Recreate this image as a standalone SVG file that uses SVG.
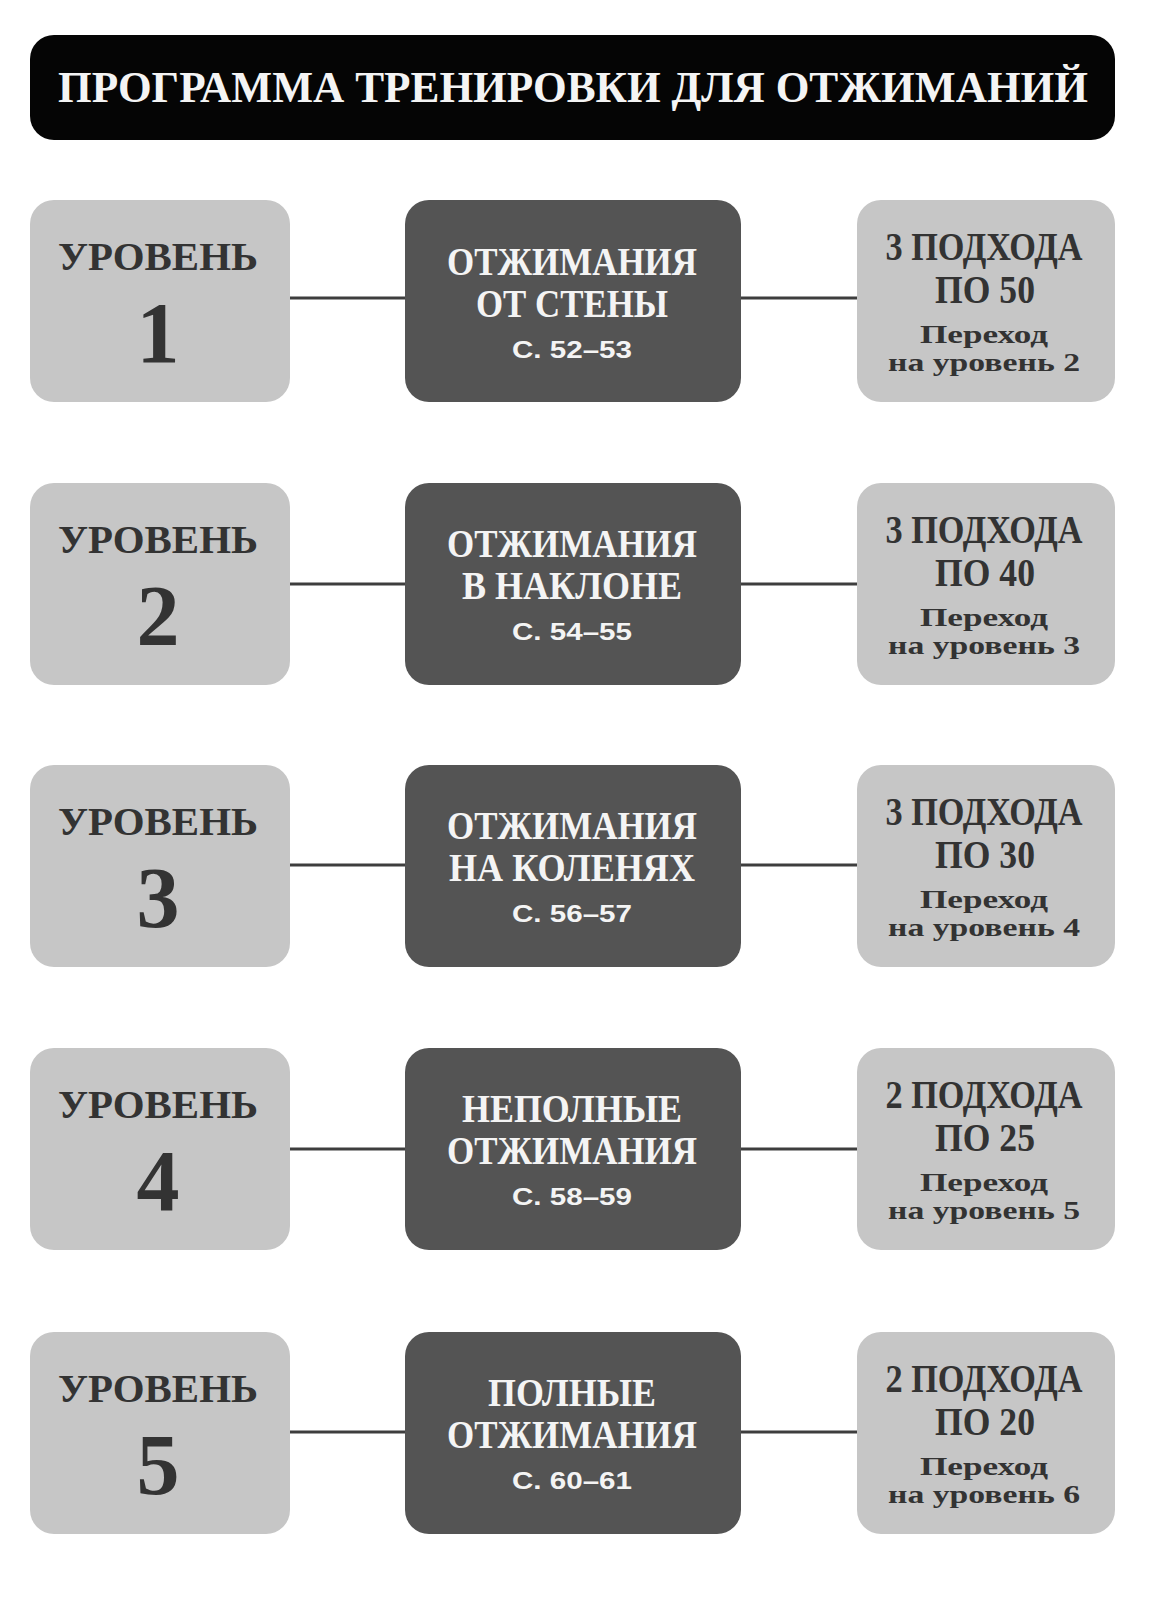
<svg xmlns="http://www.w3.org/2000/svg" width="1173" height="1597" viewBox="0 0 1173 1597">
<style>
.bg{fill:#ffffff}
.title{fill:#050505}
.lt{fill:#c6c6c6}
.dk{fill:#545454}
.st{font-family:"Liberation Serif","DejaVu Serif",serif;font-weight:bold;text-anchor:middle}
.sn{font-family:"Liberation Sans","DejaVu Sans",sans-serif;font-weight:bold;text-anchor:middle}
.w{fill:#f4f4f4}
.d{fill:#333333}
.conn line{stroke:#3e3e3e;stroke-width:3}
</style>
<rect class="bg" x="0" y="0" width="1173" height="1597"/>
<g id="title">
<rect class="title" x="30" y="35" width="1085" height="105" rx="24"/>
<text class="st w" x="573" y="102" font-size="44" textLength="1030" lengthAdjust="spacingAndGlyphs">ПРОГРАММА ТРЕНИРОВКИ ДЛЯ ОТЖИМАНИЙ</text>
</g>
<g id="connectors" class="conn">
<line x1="290" y1="298" x2="405" y2="298"/><line x1="741" y1="298" x2="857" y2="298"/>
<line x1="290" y1="584" x2="405" y2="584"/><line x1="741" y1="584" x2="857" y2="584"/>
<line x1="290" y1="865" x2="405" y2="865"/><line x1="741" y1="865" x2="857" y2="865"/>
<line x1="290" y1="1149" x2="405" y2="1149"/><line x1="741" y1="1149" x2="857" y2="1149"/>
<line x1="290" y1="1432" x2="405" y2="1432"/><line x1="741" y1="1432" x2="857" y2="1432"/>
</g>
<!-- Row 1 -->
<g id="level1" transform="translate(0,200)">
<rect class="lt" x="30" y="0" width="260" height="202" rx="24"/>
<text class="st d" x="158" y="70" font-size="40" textLength="200" lengthAdjust="spacingAndGlyphs">УРОВЕНЬ</text>
<text class="st d" x="158" y="162" font-size="86">1</text>
</g>
<g id="exercise1" transform="translate(0,200)">
<rect class="dk" x="405" y="0" width="336" height="202" rx="24"/>
<text class="st w" x="572" y="75" font-size="40" textLength="250" lengthAdjust="spacingAndGlyphs">ОТЖИМАНИЯ</text>
<text class="st w" x="572" y="117" font-size="40" textLength="192" lengthAdjust="spacingAndGlyphs">ОТ СТЕНЫ</text>
<text class="sn w" x="572" y="158" font-size="24" textLength="120" lengthAdjust="spacingAndGlyphs">С. 52–53</text>
</g>
<g id="sets1" transform="translate(0,200)">
<rect class="lt" x="857" y="0" width="258" height="202" rx="24"/>
<text class="st d" x="984" y="60" font-size="40" textLength="197" lengthAdjust="spacingAndGlyphs">3 ПОДХОДА</text>
<text class="st d" x="985" y="103" font-size="40" textLength="100" lengthAdjust="spacingAndGlyphs">ПО 50</text>
<text class="st d" x="984" y="143" font-size="25" textLength="128" lengthAdjust="spacingAndGlyphs">Переход</text>
<text class="st d" x="984" y="171" font-size="25" textLength="192" lengthAdjust="spacingAndGlyphs">на уровень 2</text>
</g>
<!-- Row 2 -->
<g id="level2" transform="translate(0,483)">
<rect class="lt" x="30" y="0" width="260" height="202" rx="24"/>
<text class="st d" x="158" y="70" font-size="40" textLength="200" lengthAdjust="spacingAndGlyphs">УРОВЕНЬ</text>
<text class="st d" x="158" y="162" font-size="86">2</text>
</g>
<g id="exercise2" transform="translate(0,483)">
<rect class="dk" x="405" y="0" width="336" height="202" rx="24"/>
<text class="st w" x="572" y="74" font-size="40" textLength="250" lengthAdjust="spacingAndGlyphs">ОТЖИМАНИЯ</text>
<text class="st w" x="572" y="116" font-size="40" textLength="220" lengthAdjust="spacingAndGlyphs">В НАКЛОНЕ</text>
<text class="sn w" x="572" y="157" font-size="24" textLength="120" lengthAdjust="spacingAndGlyphs">С. 54–55</text>
</g>
<g id="sets2" transform="translate(0,483)">
<rect class="lt" x="857" y="0" width="258" height="202" rx="24"/>
<text class="st d" x="984" y="60" font-size="40" textLength="197" lengthAdjust="spacingAndGlyphs">3 ПОДХОДА</text>
<text class="st d" x="985" y="103" font-size="40" textLength="100" lengthAdjust="spacingAndGlyphs">ПО 40</text>
<text class="st d" x="984" y="143" font-size="25" textLength="128" lengthAdjust="spacingAndGlyphs">Переход</text>
<text class="st d" x="984" y="171" font-size="25" textLength="192" lengthAdjust="spacingAndGlyphs">на уровень 3</text>
</g>
<!-- Row 3 -->
<g id="level3" transform="translate(0,765)">
<rect class="lt" x="30" y="0" width="260" height="202" rx="24"/>
<text class="st d" x="158" y="70" font-size="40" textLength="200" lengthAdjust="spacingAndGlyphs">УРОВЕНЬ</text>
<text class="st d" x="158" y="162" font-size="86">3</text>
</g>
<g id="exercise3" transform="translate(0,765)">
<rect class="dk" x="405" y="0" width="336" height="202" rx="24"/>
<text class="st w" x="572" y="74" font-size="40" textLength="250" lengthAdjust="spacingAndGlyphs">ОТЖИМАНИЯ</text>
<text class="st w" x="572" y="116" font-size="40" textLength="246" lengthAdjust="spacingAndGlyphs">НА КОЛЕНЯХ</text>
<text class="sn w" x="572" y="157" font-size="24" textLength="120" lengthAdjust="spacingAndGlyphs">С. 56–57</text>
</g>
<g id="sets3" transform="translate(0,765)">
<rect class="lt" x="857" y="0" width="258" height="202" rx="24"/>
<text class="st d" x="984" y="60" font-size="40" textLength="197" lengthAdjust="spacingAndGlyphs">3 ПОДХОДА</text>
<text class="st d" x="985" y="103" font-size="40" textLength="100" lengthAdjust="spacingAndGlyphs">ПО 30</text>
<text class="st d" x="984" y="143" font-size="25" textLength="128" lengthAdjust="spacingAndGlyphs">Переход</text>
<text class="st d" x="984" y="171" font-size="25" textLength="192" lengthAdjust="spacingAndGlyphs">на уровень 4</text>
</g>
<!-- Row 4 -->
<g id="level4" transform="translate(0,1048)">
<rect class="lt" x="30" y="0" width="260" height="202" rx="24"/>
<text class="st d" x="158" y="70" font-size="40" textLength="200" lengthAdjust="spacingAndGlyphs">УРОВЕНЬ</text>
<text class="st d" x="158" y="162" font-size="86">4</text>
</g>
<g id="exercise4" transform="translate(0,1048)">
<rect class="dk" x="405" y="0" width="336" height="202" rx="24"/>
<text class="st w" x="572" y="74" font-size="40" textLength="220" lengthAdjust="spacingAndGlyphs">НЕПОЛНЫЕ</text>
<text class="st w" x="572" y="116" font-size="40" textLength="250" lengthAdjust="spacingAndGlyphs">ОТЖИМАНИЯ</text>
<text class="sn w" x="572" y="157" font-size="24" textLength="120" lengthAdjust="spacingAndGlyphs">С. 58–59</text>
</g>
<g id="sets4" transform="translate(0,1048)">
<rect class="lt" x="857" y="0" width="258" height="202" rx="24"/>
<text class="st d" x="984" y="60" font-size="40" textLength="197" lengthAdjust="spacingAndGlyphs">2 ПОДХОДА</text>
<text class="st d" x="985" y="103" font-size="40" textLength="100" lengthAdjust="spacingAndGlyphs">ПО 25</text>
<text class="st d" x="984" y="143" font-size="25" textLength="128" lengthAdjust="spacingAndGlyphs">Переход</text>
<text class="st d" x="984" y="171" font-size="25" textLength="192" lengthAdjust="spacingAndGlyphs">на уровень 5</text>
</g>
<!-- Row 5 -->
<g id="level5" transform="translate(0,1332)">
<rect class="lt" x="30" y="0" width="260" height="202" rx="24"/>
<text class="st d" x="158" y="70" font-size="40" textLength="200" lengthAdjust="spacingAndGlyphs">УРОВЕНЬ</text>
<text class="st d" x="158" y="162" font-size="86">5</text>
</g>
<g id="exercise5" transform="translate(0,1332)">
<rect class="dk" x="405" y="0" width="336" height="202" rx="24"/>
<text class="st w" x="572" y="74" font-size="40" textLength="168" lengthAdjust="spacingAndGlyphs">ПОЛНЫЕ</text>
<text class="st w" x="572" y="116" font-size="40" textLength="250" lengthAdjust="spacingAndGlyphs">ОТЖИМАНИЯ</text>
<text class="sn w" x="572" y="157" font-size="24" textLength="120" lengthAdjust="spacingAndGlyphs">С. 60–61</text>
</g>
<g id="sets5" transform="translate(0,1332)">
<rect class="lt" x="857" y="0" width="258" height="202" rx="24"/>
<text class="st d" x="984" y="60" font-size="40" textLength="197" lengthAdjust="spacingAndGlyphs">2 ПОДХОДА</text>
<text class="st d" x="985" y="103" font-size="40" textLength="100" lengthAdjust="spacingAndGlyphs">ПО 20</text>
<text class="st d" x="984" y="143" font-size="25" textLength="128" lengthAdjust="spacingAndGlyphs">Переход</text>
<text class="st d" x="984" y="171" font-size="25" textLength="192" lengthAdjust="spacingAndGlyphs">на уровень 6</text>
</g>
</svg>
